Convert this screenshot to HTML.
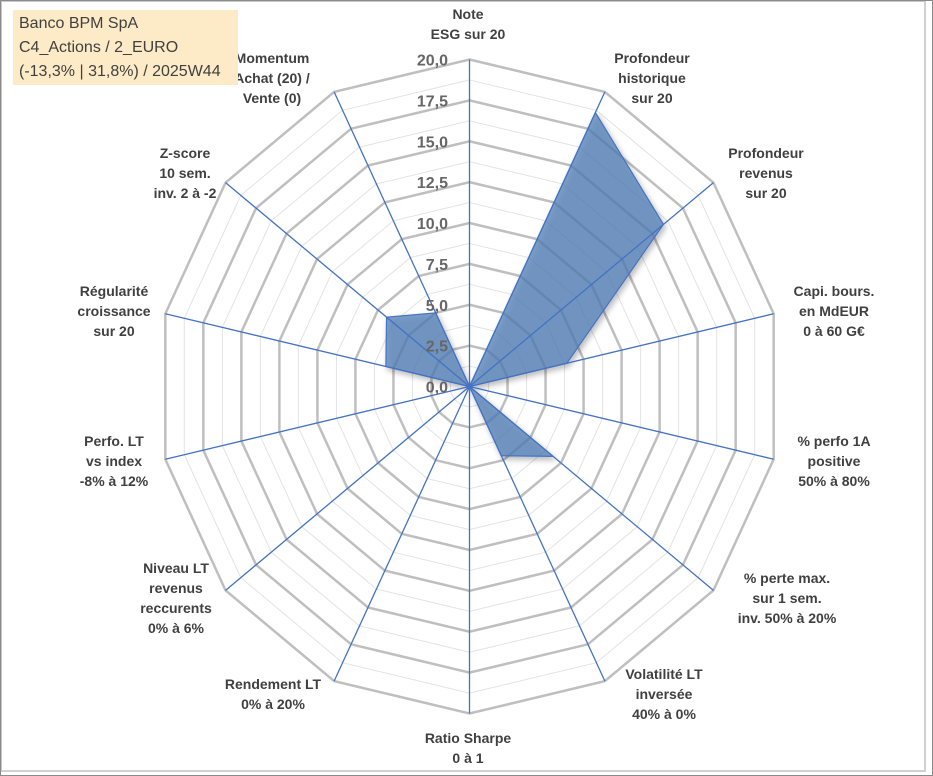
<!DOCTYPE html>
<html><head><meta charset="utf-8">
<style>
html,body{margin:0;padding:0;background:#fff;}
#wrap{position:relative;width:933px;height:776px;overflow:hidden;font-family:"Liberation Sans",sans-serif;}
#frame{position:absolute;left:1px;top:1px;width:922px;height:768px;border:1px solid #c8c8c8;border-right:2px solid #d0d0d0;border-bottom:2px solid #d0d0d0;}
#outer{position:absolute;left:0;top:0;width:931px;height:774px;border:1px solid #8a8a8a;}
#title{position:absolute;left:13px;top:10px;width:225px;height:75px;background:#fdeac6;color:#404040;font-size:16px;line-height:24px;padding:2px 0 0 6px;box-sizing:border-box;}
svg{position:absolute;left:0;top:0;}
</style></head><body>
<div id="wrap">
<div id="outer"></div>
<div id="frame"></div>
<svg id="chart" width="933" height="776"></svg>
<div id="title">Banco BPM SpA<br>C4_Actions / 2_EURO<br>(-13,3% | 31,8%) / 2025W44</div>
</div>
<script>
const categories = [
 ["Note","ESG sur 20"],
 ["Profondeur","historique","sur 20"],
 ["Profondeur","revenus","sur 20"],
 ["Capi. bours.","en MdEUR","0 à 60 G€"],
 ["% perfo 1A","positive","50% à 80%"],
 ["% perte max.","sur 1 sem.","inv. 50% à 20%"],
 ["Volatilité LT","inversée","40% à 0%"],
 ["Ratio Sharpe","0 à 1"],
 ["Rendement LT","0% à 20%"],
 ["Niveau LT","revenus","reccurents","0% à 6%"],
 ["Perfo. LT","vs index","-8% à 12%"],
 ["Régularité","croissance","sur 20"],
 ["Z-score","10 sem.","inv. 2 à -2"],
 ["Momentum","Achat (20) /","Vente (0)"]
];
const values = [0, 18.6, 15.9, 6.4, 0, 6.85, 4.7, 0, 0, 0, 0, 5.5, 6.8, 5.0];
const tickValues = [0, 2.5, 5, 7.5, 10, 12.5, 15, 17.5, 20];
const tickLabels = ["0,0","2,5","5,0","7,5","10,0","12,5","15,0","17,5","20,0"];

const svg = document.getElementById('chart');
const NS = 'http://www.w3.org/2000/svg';
const cx = 469.5, cy = 386.5, Rx = 312, Ry = 327, vMax = 20;
const N = categories.length;
const ang = i => i * 2 * Math.PI / N;
const pt = (i, v) => [cx + v / vMax * Rx * Math.sin(ang(i)), cy - v / vMax * Ry * Math.cos(ang(i))];
function mk(tag, attrs){const e=document.createElementNS(NS,tag);for(const k in attrs)e.setAttribute(k,attrs[k]);svg.appendChild(e);return e;}

const defs = mk('defs',{});
defs.innerHTML='<filter id="sh" x="-20%" y="-20%" width="140%" height="140%"><feDropShadow dx="2" dy="3" stdDeviation="3" flood-color="#000" flood-opacity="0.35"/></filter>';

for (let k = 0; k < tickValues.length - 1; k++) {
  const v = (tickValues[k] + tickValues[k+1]) / 2;
  const p = categories.map((c,i)=>pt(i,v).join(',')).join(' ');
  const e = mk('polygon',{points:p,fill:'none',stroke:'#e3e3e3','stroke-width':1});
  
  
}
tickValues.forEach(v=>{
  if (v === 0) return;
  const p = categories.map((c,i)=>pt(i,v).join(',')).join(' ');
  const e = mk('polygon',{points:p,fill:'none',stroke:'#bfbfbf','stroke-width':2.5});
  
  
});
const dp = values.map((v,i)=>pt(i,v).join(',')).join(' ');
const poly = mk('polygon',{points:dp,fill:'#4f7db5','fill-opacity':0.72,stroke:'#4472c4','stroke-width':1.2,filter:'url(#sh)'});


categories.forEach((c,i)=>{
  const [x,y]=pt(i,vMax);
  const e = mk('line',{x1:cx,y1:cy,x2:x,y2:y,stroke:'#4472c4','stroke-width':1.3});
  
  
});
tickValues.forEach((v,k)=>{
  const t = mk('text',{x:448,y:cy - v / vMax * Ry + 6,'text-anchor':'end','font-size':'16','font-weight':'bold',fill:'#666666','font-family':'Liberation Sans, sans-serif'});
  t.textContent = tickLabels[k];
  
  
});
const labelPos = [[468,14],[652,58],[766,153],[834,291],[834,441],[787,578],[664,674],[468,738],[273,684],[176,568],[114,441],[114,291],[185,153],[272,58]];
categories.forEach((lines,i)=>{
  const [x,y0]=labelPos[i];
  const t = mk('text',{'text-anchor':'middle','font-size':'14','font-weight':'bold',fill:'#404040','font-family':'Liberation Sans, sans-serif'});
  
  
  lines.forEach((s,j)=>{
    const ts=document.createElementNS(NS,'tspan');
    ts.setAttribute('x',x);ts.setAttribute('y',y0+5+j*20);
    ts.textContent=s;t.appendChild(ts);
  });
});
</script>
</body></html>
